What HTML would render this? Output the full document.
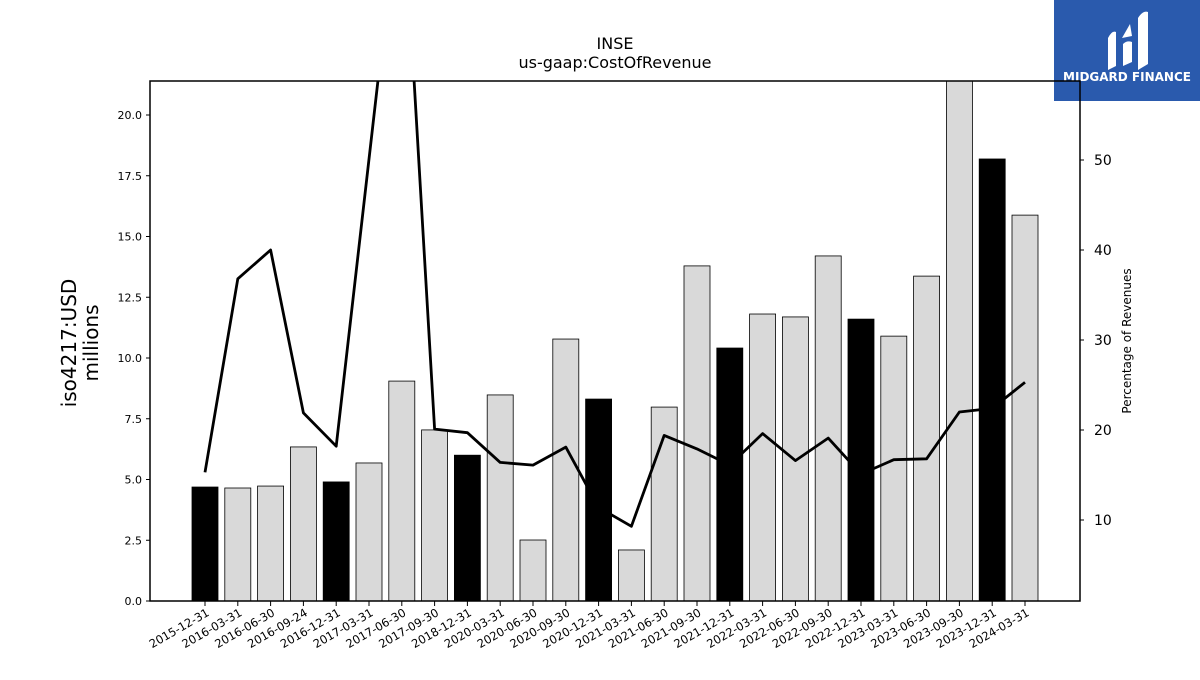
<!DOCTYPE html>
<html><head><meta charset="utf-8"><style>
body{margin:0;background:#fff;font-family:"Liberation Sans","DejaVu Sans",sans-serif}
svg text{font-family:"DejaVu Sans","Liberation Sans",sans-serif}
</style></head><body>
<svg id="c" width="1200" height="675" viewBox="0 0 1200 675">
<rect x="0" y="0" width="1200" height="675" fill="#fff"/>
<g>
<rect x="1054" y="0" width="146" height="101" fill="#2a5aad"/>
<path d="M1108 70 L1108 38 Q1112 30 1116 32 L1116 66 Z M1123 66 L1123 44 Q1127 40 1132 42 L1132 62 Z M1138 70 L1138 18 Q1143 10 1148 12 L1148 64 Z M1122 38 L1130 24 L1132 36 Z" fill="#fff"/>
<text x="1127" y="81" font-size="12" font-weight="bold" fill="#fff" text-anchor="middle">MIDGARD FINANCE</text>
</g>
<text x="615" y="49" font-size="16" text-anchor="middle">INSE</text>
<text x="615" y="68" font-size="16" text-anchor="middle">us-gaap:CostOfRevenue</text>
<g id="plot"></g>
<text transform="translate(76,343) rotate(-90)" font-size="20" text-anchor="middle">iso4217:USD</text>
<text transform="translate(98,343) rotate(-90)" font-size="20" text-anchor="middle">millions</text>
<text transform="translate(1131,341) rotate(-90)" font-size="12" text-anchor="middle">Percentage of Revenues</text>
</svg>
<script>
const categories=["2015-12-31","2016-03-31","2016-06-30","2016-09-24","2016-12-31","2017-03-31","2017-06-30","2017-09-30","2018-12-31","2020-03-31","2020-06-30","2020-09-30","2020-12-31","2021-03-31","2021-06-30","2021-09-30","2021-12-31","2022-03-31","2022-06-30","2022-09-30","2022-12-31","2023-03-31","2023-06-30","2023-09-30","2023-12-31","2024-03-31"];
const costValues=[4.69,4.65,4.73,6.34,4.9,5.68,9.05,7.04,6.0,8.48,2.51,10.78,8.31,2.1,7.98,13.79,10.41,11.81,11.69,14.2,11.6,10.9,13.37,22.5,18.19,15.88];
const isAnnual=[1,0,0,0,1,0,0,0,1,0,0,0,1,0,0,0,1,0,0,0,1,0,0,0,1,0];
const pctValues=[15.3,36.8,40,21.9,18.2,null,82,20.1,19.7,16.4,16.1,18.1,11.4,9.3,19.4,17.9,16.1,19.6,16.6,19.1,15.1,16.7,16.8,22,22.4,25.3];
const leftTicks=["0.0","2.5","5.0","7.5","10.0","12.5","15.0","17.5","20.0"];
const rightTicks=[10,20,30,40,50];
const L=150,R=1080,T=81,B=601;
const y=v=>601-v*24.3;
const y2=v=>610-v*9;
const x=i=>205+i*32.8;
const NS="http://www.w3.org/2000/svg";
const g=document.getElementById('plot');
function mk(t,a,p){const e=document.createElementNS(NS,t);for(const k in a)e.setAttribute(k,a[k]);(p||g).appendChild(e);return e;}
const clip=mk('clipPath',{id:'cp'});mk('rect',{x:L,y:T,width:R-L,height:B-T},clip);
const bars=mk('g',{'clip-path':'url(#cp)'});
costValues.forEach((v,i)=>{const r=mk('rect',{x:x(i)-13,y:y(v),width:26,height:y(0)-y(v),fill:isAnnual[i]?'#000':'#d9d9d9',stroke:'#000','stroke-width':0.8},bars);

});
let d='',pen=false;
pctValues.forEach((v,i)=>{if(v===null)return;d+=(pen?'L':'M')+x(i)+' '+y2(v)+' ';pen=true;});
const ln=mk('path',{d:d,fill:'none',stroke:'#000','stroke-width':2.8,'stroke-linejoin':'round'},bars);


const fr=mk('rect',{x:L,y:T,width:R-L,height:B-T,fill:'none',stroke:'#000','stroke-width':1.5});


leftTicks.forEach(t=>{const yy=y(parseFloat(t));mk('line',{x1:L-4,x2:L,y1:yy,y2:yy,stroke:'#000'});
const tx=mk('text',{x:L-8,y:yy+4,'font-size':11,'text-anchor':'end'});tx.textContent=t;

});
rightTicks.forEach(t=>{const yy=y2(t);mk('line',{x1:R,x2:R+4,y1:yy,y2:yy,stroke:'#000'});
const tx=mk('text',{x:R+14,y:yy+5,'font-size':14});tx.textContent=t;

});
categories.forEach((c,i)=>{mk('line',{x1:x(i),x2:x(i),y1:B,y2:B+5,stroke:'#000'});
const tx=mk('text',{transform:`translate(${x(i)+5},${B+14}) rotate(-30)`,'font-size':11.5,'text-anchor':'end'});tx.textContent=c;

});
</script>
</body></html>
